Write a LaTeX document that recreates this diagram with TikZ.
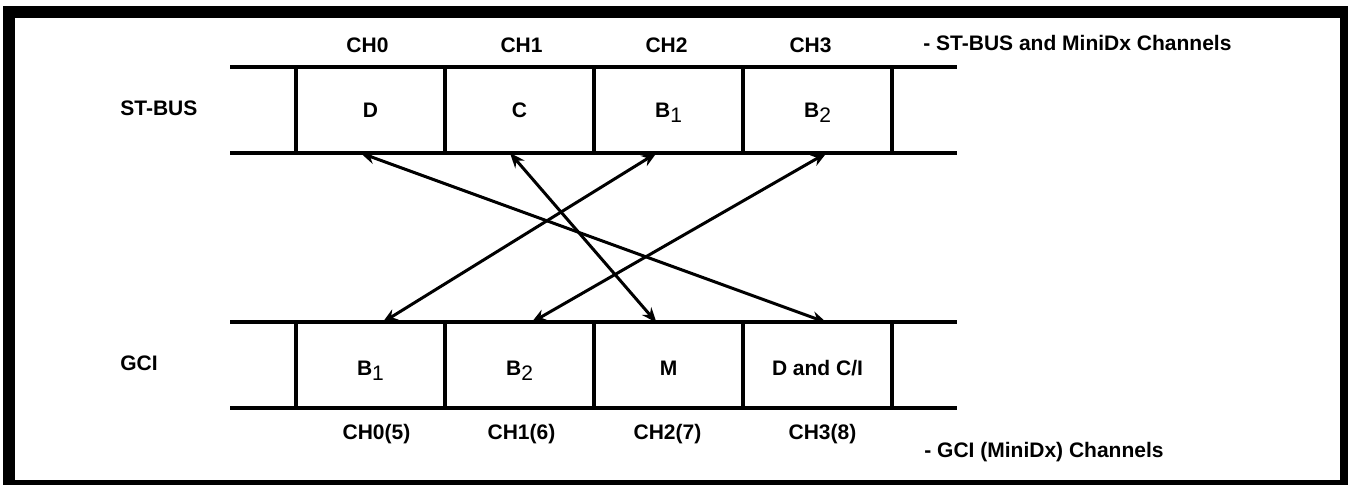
\documentclass[tikz,border=0pt]{standalone}
\usepackage{fontspec}
\setmainfont{Liberation Sans}
\usetikzlibrary{arrows.meta,calc,positioning}
\newcommand{\chsub}[2]{#1\raisebox{-2.5pt}{\mdseries #2}}

\begin{document}
\begin{tikzpicture}[x=0.5pt,y=-0.5pt,
  every node/.style={font=\fontsize{10.5}{12.6}\selectfont\bfseries},
  slot/.style={draw,line width=2pt,minimum width=74.5pt,minimum height=43pt,inner sep=0pt,outer sep=0pt,text height=7.5pt,text depth=0pt},
  gslot/.style={slot,text height=10.5pt},
  rail/.style={line width=2pt},
  link/.style={line width=1.5pt,{Stealth[length=7.5pt,width=6pt]}-{Stealth[length=7.5pt,width=6pt]}},
  lbl/.style={inner sep=0pt}]
\useasboundingbox (0,0) rectangle (1348,485);
\draw[line width=6pt] (9,12) rectangle (1346,486);

% ST-BUS frame
\node[slot] (sD) at (370.5,110) {D};
\node[slot,right=0pt of sD] (sC) {C};
\node[slot,right=0pt of sC] (sB1) {\chsub{B}{1}};
\node[slot,right=0pt of sB1] (sB2) {\chsub{B}{2}};
\draw[rail] ($(sD.north west)+(-66,0)$) -- ($(sB2.north east)+(65,0)$);
\draw[rail] ($(sD.south west)+(-66,0)$) -- ($(sB2.south east)+(65,0)$);

% GCI frame
\node[gslot] (gB1) at (370.5,365.5) {\chsub{B}{1}};
\node[gslot,right=0pt of gB1] (gB2) {\chsub{B}{2}};
\node[gslot,right=0pt of gB2] (gM) {M};
\node[gslot,right=0pt of gM] (gDC) {D and C/I};
\draw[rail] ($(gB1.north west)+(-66,0)$) -- ($(gDC.north east)+(65,0)$);
\draw[rail] ($(gB1.south west)+(-66,0)$) -- ($(gDC.south east)+(65,0)$);

\node[lbl,anchor=west] (stbus) at (120,108) {ST-BUS};
\node[lbl,anchor=west] (gci) at (120,363) {GCI};

% channel numbers
\node[lbl] (ch0) at ($(sD.north)+(-3,-22)$) {CH0};
\node[lbl] (ch1) at ($(sC.north)+(2,-22)$) {CH1};
\node[lbl] (ch2) at ($(sB1.north)+(-2,-22)$) {CH2};
\node[lbl] (ch3) at ($(sB2.north)+(-7,-22)$) {CH3};
\node[lbl,anchor=west] (stnote) at (923,43) {- ST-BUS and MiniDx Channels};

\node[lbl] (gch0) at ($(gB1.south)+(6,26)$) {CH0(5)};
\node[lbl] (gch1) at ($(gB2.south)+(2,26)$) {CH1(6)};
\node[lbl] (gch2) at ($(gM.south)+(-1,26)$) {CH2(7)};
\node[lbl] (gch3) at ($(gDC.south)+(5,26)$) {CH3(8)};
\node[lbl,anchor=west] (gcinote) at (924,452) {- GCI (MiniDx) Channels};

% channel mapping
\draw[link] ($(sD.south)+(-10,0)$) -- ($(gDC.north)+(9,0)$);
\draw[link] ($(sC.south)+(-9.5,0)$) -- ($(gM.north)+(-12,0)$);
\draw[link] ($(sB1.south)+(-12,0)$) -- ($(gB1.north)+(12,0)$);
\draw[link] ($(sB2.south)+(9,0)$) -- ($(gB2.north)+(12,0)$);
\end{tikzpicture}
\end{document}
